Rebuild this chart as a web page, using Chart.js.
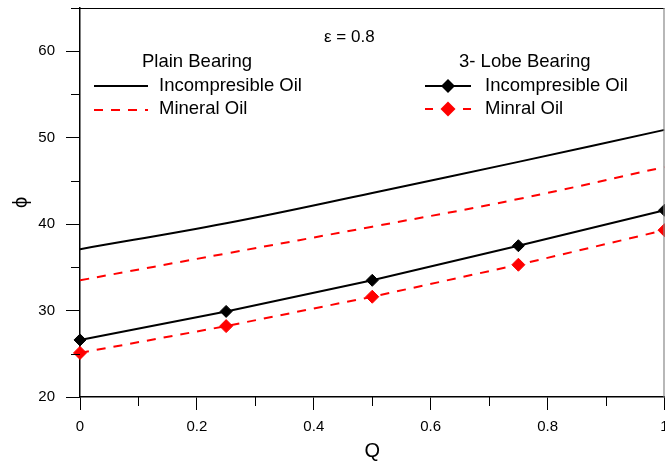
<!DOCTYPE html>
<html>
<head>
<meta charset="utf-8">
<script src="https://cdn.jsdelivr.net/npm/chart.js@4"></script>
<style>
  html, body { margin: 0; padding: 0; background: #fff; overflow: hidden; }
  /* a little wider than the window so the right edge (and the "1") is cut like the original */
  #wrap { width: 672px; height: 461px; position: relative; }
</style>
</head>
<body>
<div id="wrap"><canvas id="phiChart"></canvas></div>
<script>
// data (eps = 0.8)
const qPlain = [0, 0.25, 0.5, 0.75, 1];
const plainIncomp = [37.1, 40.1, 43.6, 47.2, 50.9];
const plainMineral = [33.5, 36.6, 39.7, 42.9, 46.6];

const qLobe = [0, 0.25, 0.5, 0.75, 1];
const lobeIncomp = [26.6, 29.9, 33.5, 37.5, 41.6];
const lobeMineral = [25.1, 28.2, 31.6, 35.3, 39.3];

const xTickLabels = ['0', '0.2', '0.4', '0.6', '0.8', '1'];
const yTickLabels = ['20', '30', '40', '50', '60'];

const FONT = '"Liberation Sans", Arial, sans-serif';

function pts(xs, ys) {
    return xs.map((x, i) => ({ x: x, y: ys[i] }));
}

function isMajorX(v) { return xTickLabels.includes(String(+v.toFixed(1))); }
function isMajorY(v) { return yTickLabels.includes(String(Math.round(v))); }

// minor ticks, frame and the in-plot legend
const extras = {
    id: 'extras',
    afterDraw(chart) {
        const ctx = chart.ctx;
        const a = chart.chartArea;
        const xs = chart.scales.x, ys = chart.scales.y;
        ctx.save();
        ctx.strokeStyle = '#000';
        ctx.lineWidth = 1;
        ctx.beginPath();
        xs.ticks.forEach(t => {
            if (isMajorX(t.value)) return;
            const px = Math.round(xs.getPixelForValue(t.value)) + 0.5;
            ctx.moveTo(px, a.bottom);
            ctx.lineTo(px, a.bottom + 9);
        });
        ys.ticks.forEach(t => {
            if (isMajorY(t.value)) return;
            const py = Math.round(ys.getPixelForValue(t.value)) + 0.5;
            ctx.moveTo(a.left - 9, py);
            ctx.lineTo(a.left, py);
        });
        ctx.stroke();

        // frame
        ctx.lineWidth = 1.2;
        ctx.beginPath();
        ctx.moveTo(a.left, a.top + 0.5);
        ctx.lineTo(a.right, a.top + 0.5);
        ctx.stroke();
        ctx.strokeStyle = '#888';
        ctx.beginPath();
        ctx.moveTo(a.right - 0.5, a.top);
        ctx.lineTo(a.right - 0.5, a.bottom);
        ctx.stroke();

        // legend
        ctx.fillStyle = '#000';
        ctx.textBaseline = 'middle';
        ctx.textAlign = 'left';
        ctx.font = '17px ' + FONT;
        ctx.fillText('\u03b5 = 0.8', 324, 37);
        ctx.font = '18.5px ' + FONT;
        ctx.fillText('Plain Bearing', 142, 62);
        ctx.fillText('Incompresible Oil', 159, 86);
        ctx.fillText('Mineral Oil', 159, 109);
        ctx.fillText('3- Lobe Bearing', 459, 62);
        ctx.fillText('Incompresible Oil', 485, 86);
        ctx.fillText('Minral Oil', 485, 109);

        ctx.lineWidth = 2;
        ctx.strokeStyle = '#000';
        ctx.beginPath();
        ctx.moveTo(94, 86); ctx.lineTo(148, 86);
        ctx.moveTo(425, 86); ctx.lineTo(471, 86);
        ctx.stroke();
        ctx.strokeStyle = '#ff0000';
        ctx.setLineDash([9, 8]);
        ctx.beginPath();
        ctx.moveTo(94, 110); ctx.lineTo(148, 110);
        ctx.stroke();
        ctx.setLineDash([]);
        ctx.beginPath();
        ctx.moveTo(425, 109); ctx.lineTo(433, 109);
        ctx.moveTo(463, 109); ctx.lineTo(471, 109);
        ctx.stroke();

        function diamond(x, y, r, c) {
            ctx.fillStyle = c;
            ctx.beginPath();
            ctx.moveTo(x, y - r); ctx.lineTo(x + r, y);
            ctx.lineTo(x, y + r); ctx.lineTo(x - r, y);
            ctx.closePath();
            ctx.fill();
        }
        diamond(448, 86, 7, '#000');
        diamond(448, 109, 7.5, '#ff0000');
        ctx.restore();
    }
};

const ctx = document.getElementById('phiChart');
new Chart(ctx, {
    type: 'line',
    data: {
        datasets: [{
            label: 'Plain Incompresible Oil',
            data: pts(qPlain, plainIncomp),
            borderColor: '#000',
            borderWidth: 2,
            pointRadius: 0,
            tension: 0.4
        }, {
            label: 'Plain Mineral Oil',
            data: pts(qPlain, plainMineral),
            borderColor: '#ff0000',
            borderWidth: 2,
            borderDash: [9, 8],
            pointRadius: 0,
            tension: 0.4
        }, {
            label: '3-Lobe Incompresible Oil',
            data: pts(qLobe, lobeIncomp),
            borderColor: '#000',
            backgroundColor: '#000',
            borderWidth: 2,
            pointStyle: 'rectRot',
            pointRadius: 6,
            pointBorderWidth: 1,
            tension: 0,
            clip: false
        }, {
            label: '3-Lobe Minral Oil',
            data: pts(qLobe, lobeMineral),
            borderColor: '#ff0000',
            backgroundColor: '#ff0000',
            borderWidth: 2,
            borderDash: [9, 8],
            pointStyle: 'rectRot',
            pointRadius: 6.5,
            pointBorderWidth: 1,
            tension: 0,
            clip: false
        }]
    },
    options: {
        responsive: true,
        maintainAspectRatio: false,
        animation: false,
        layout: { padding: { top: 8, right: 1, left: 0, bottom: 0 } },
        plugins: {
            legend: { display: false },
            tooltip: { enabled: false }
        },
        scales: {
            x: {
                type: 'linear',
                min: 0,
                max: 1,
                border: { color: '#000', width: 1.5 },
                grid: {
                    drawOnChartArea: false,
                    tickLength: 13,
                    tickWidth: 1,
                    tickColor: c => isMajorX(c.tick.value) ? '#000' : 'rgba(0,0,0,0)'
                },
                ticks: {
                    stepSize: 0.1,
                    autoSkip: false,
                    maxRotation: 0,
                    padding: 8,
                    color: '#000',
                    font: { family: FONT, size: 15 },
                    callback: v => isMajorX(v) ? String(+v.toFixed(1)) : ''
                },
                title: {
                    display: true,
                    text: 'Q',
                    color: '#000',
                    font: { family: FONT, size: 20, lineHeight: 1 },
                    padding: { top: 0, bottom: 0 }
                },
                afterFit: s => { s.paddingRight = 0; s.paddingLeft = 0; s.height = 64; }
            },
            y: {
                min: 20,
                max: 65,
                border: { color: '#000', width: 1.5 },
                grid: {
                    drawOnChartArea: false,
                    tickLength: 14,
                    tickWidth: 1,
                    tickColor: c => isMajorY(c.tick.value) ? '#000' : 'rgba(0,0,0,0)'
                },
                ticks: {
                    stepSize: 5,
                    autoSkip: false,
                    padding: 11,
                    color: '#000',
                    font: { family: FONT, size: 15 },
                    callback: v => isMajorY(v) ? String(v) : ''
                },
                title: {
                    display: true,
                    text: '\u03d5',
                    color: '#000',
                    font: { family: FONT, size: 20 },
                    padding: { top: 9, bottom: 0 }
                },
                afterFit: s => { s.width = 80; s.paddingTop = 0; s.paddingBottom = 0; }
            }
        }
    },
    plugins: [extras]
});
</script>
</body>
</html>
